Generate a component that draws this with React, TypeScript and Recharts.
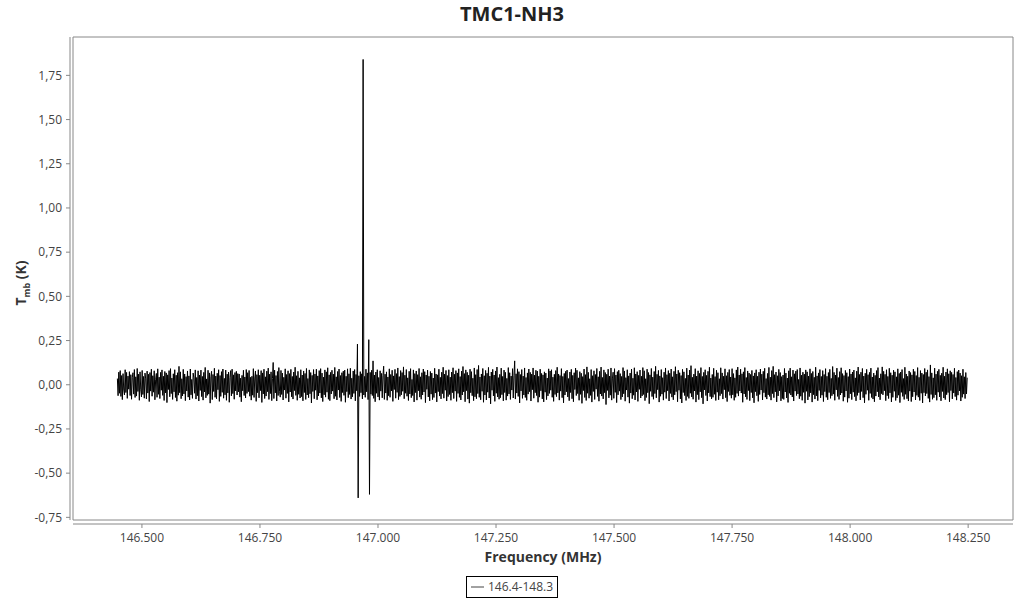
import React from 'react';
import { LineChart, Line, XAxis, YAxis, ReferenceArea, Legend, Label } from 'recharts';

const CHART_TITLE = 'TMC1-NH3';
const SERIES_NAME = '146.4-148.3';
const X_TITLE = 'Frequency (MHz)';

// spectrum: first channel frequency and channel width (MHz)
const FREQ_START_MHZ = 146.448;
const CHANNEL_WIDTH_MHZ = 0.0015;

// Tmb per channel, in mK (read/estimated from the picture)
const TMB_MK: number[] = [
  35, -62, 71, -48, 80, -66, 52, -84, 63, -30, -58, 85, -44, 70, -77, 49, -25, 74, -61, 57,
  -82, 40, 68, -53, 86, -72, 45, -64, 92, -38, 60, -88, 73, -29, -69, 81, -55, 47, -76, 66,
  33, -80, 77, -47, 59, -95, 69, -36, 88, -65, 51, -42, 79, -85, 28, 64, -71, 90, -54, 43,
  -78, 70, -31, 84, -60, 48, -89, 75, -46, 67, -101, 56, -27, 80, -68, 91, -50, 38, -83, 62,
  -40, 85, -72, 54, -93, 68, -59, 104, -45, 73, -79, 34, -63, 87, -52, 61, -90, 46, -35, 78,
  -70, 50, -86, 89, -57, 30, -77, 66, 39, -48, 84, -81, 41, -62, 79, -92, 55, -32, 83, -67,
  47, -87, 70, -41, 98, -74, 33, -60, 82, -53, 67, -104, 45, 76, -84, 58, -38, 93, -71, 49,
  -79, 65, -28, 85, -94, 52, -66, 74, -43, 89, -76, 36, -57, 83, -88, 60, -46, 72, -99, 41,
  80, -63, 88, -50, 56, -82, 69, -35, 76, -58, 63, -40, 61, -70, 37, -96, 53, -34, 82, -61,
  44, -75, 86, -49, 68, -39, 81, -65, 42, -87, 48, -59, 91, -72, 38, 78, -94, 57, -45, 85,
  -74, 54, -33, 80, -100, 67, -52, 88, -78, 45, -64, 77, -39, 94, -83, 60, -50, 73, -90, 36,
  126, -78, 83, -46, 52, -92, 75, -61, 97, -37, -70, 81, -55, 66, -86, 42, -30, 90, -76, 58,
  -49, 79, -97, 63, -41, 87, -68, 47, -81, 72, -33, 99, -60, 51, -88, 76, -54, 39, -75, 85,
  -67, 55, -91, 78, -44, 64, -83, 92, -58, 35, -73, 84, -51, 69, -103, 53, -38, 86, -79, 61,
  -31, 88, -85, 50, -63, 80, -47, 91, -74, 66, -95, 43, -57, 84, -70, 73, -42, 96, -82, 56,
  -90, 70, -52, 82, -36, 60, -79, 98, -65, 45, -86, 75, -30, 89, -72, 52, -94, 68, -44, 77,
  -60, 83, -99, 48, -39, 90, -73, 62, -55, 93, -81, 37, -68, 78, -49, 86, -91, 58, -34, 230,
  -640, 51, -66, 74, -45, 62, -80, 1840, -58, 47, -71, 88, -40, 67, -84, 255, -620, 70, -53, 82,
  -61, 135, -77, 55, -96, 72, -48, 85, -69, 41, -87, 79, -36, 64, -74, 52, 105, -83, 60, -47,
  73, -88, 44, -62, 90, -71, 58, -35, 82, -94, 50, -27, 87, -76, 63, -43, 95, -84, 46, -66,
  80, -57, 69, -37, 101, -79, 54, -48, 86, -65, 39, -89, 76, -52, 91, -73, 30, -61, 84, -97,
  63, -44, 78, -87, 57, -34, 92, -70, 45, -82, 68, -58, 89, -41, 74, -101, 55, -26, 83, -69,
  48, -91, 75, -53, 66, -84, 38, -72, 93, -47, 61, -97, 56, -39, 88, -64, 42, -80, 71, -50,
  99, -76, 60, -31, 81, -92, 52, -67, 85, -55, 43, -88, 72, -45, 96, -78, 59, -36, 80, -94,
  67, -49, 90, -71, 46, -86, 77, -58, 103, -40, 63, -96, 84, -33, 70, -81, 54, -104, 88, -45,
  74, -62, 37, -90, 95, -68, 57, -79, 86, -50, 109, -71, 44, -85, 61, -37, 92, -99, 51, -58,
  81, -86, 65, -42, 98, -75, 49, -108, 72, -31, 87, -63, 55, -94, 78, -48, 100, -69, 40, -82,
  59, -73, 94, -56, 47, -91, 83, -44, 70, -87, 36, -64, 97, -52, 68, -83, 49, -30, 91, -75,
  52, 135, -81, 62, -47, 90, -66, 74, -103, 58, -35, 86, -77, 49, -58, 95, -72, 41, -88, 67,
  -53, 89, -39, 70, -92, 60, -28, 95, -76, 54, -45, 82, -61, 77, -99, 48, -70, 88, -34, 64,
  -80, 56, -97, 73, -42, 66, -84, 38, -63, 90, -49, 78, -31, 85, -71, 43, -94, 59, -55, 80,
  -67, 99, -46, 61, -87, 52, -36, 91, -73, 47, -102, 64, -58, 76, -40, 83, -69, 35, -90, 72,
  -44, 87, -79, 53, -96, 68, -27, 94, -61, 82, -50, 39, -88, 74, -54, 65, -105, 46, -33, 89,
  -72, 57, -89, 101, -48, 70, -76, 34, -60, 86, -98, 51, -38, 79, -83, 58, -25, 92, -66, 45,
  -93, 76, -52, 100, -64, 41, -80, 84, -45, 69, -112, 59, -32, 88, -74, 49, -59, 95, -87, 33,
  71, -77, 91, -43, 55, -101, 74, -57, 82, -36, 63, -84, 47, -69, 97, -51, 78, -93, 40, -30,
  85, -70, 50, -104, 66, -47, 89, -79, 37, -59, 96, -86, 61, -41, 74, -94, 53, -26, 83, -75,
  48, -63, 97, -55, 79, -90, 34, -72, 88, -45, 69, -107, 56, -37, 92, -67, 43, -82, 75, -50,
  104, -74, 59, -28, 81, -98, 50, -65, 86, -53, 40, -87, 71, -42, 95, -78, 57, -34, 80, -92,
  65, -49, 89, -70, 45, -85, 76, -57, 102, -39, 61, -96, 82, -31, 68, -80, 52, -103, 87, -44,
  73, -61, 36, -89, 94, -66, 55, -77, 83, -48, 108, -69, 42, -82, 60, -35, 91, -98, 49, -56,
  79, -84, 64, -40, 97, -73, 47, -108, 70, -29, 85, -61, 53, -92, 76, -46, 99, -67, 38, -80,
  58, -71, 93, -54, 46, -89, 82, -42, 68, -85, 34, -62, 96, -50, 67, -81, 48, -28, 90, -73,
  51, -95, 70, -38, 86, -60, 44, -76, 91, -57, 63, -88, 39, -71, 84, -49, 100, -64, 55, -35,
  88, -47, 62, -99, 73, -52, 97, -68, 41, -83, 78, -33, 66, -90, 58, -44, 81, -74, 50, -102,
  67, -39, 85, -62, 48, -94, 71, -55, 89, -30, 60, -86, 76, -45, 93, -70, 35, -81, 64, -57,
  98, -66, 43, -87, 80, -50, 104, -73, 57, -40, 72, -97, 51, -63, 87, -34, 69, -91, 46, -78,
  55, -83, 92, -41, 66, -75, 38, -100, 79, -48, 94, -58, 45, -69, 83, -92, 62, -36, 77, -61,
  86, -52, 30, -79, 95, -65, 54, -88, 71, -43, 60, -104, 84, -37, 73, -86, 49, -67, 90, -46,
  64, -98, 75, -56, 42, -81, 99, -63, 50, -90, 67, -32, 86, -74, 47, -59, 80, -95, 58, -39,
  91, -71, 48, -85, 69, -44, 87, -77, 36, -62, 103, -53, 70, -88, 55, -29, 94, -66, 41, -83,
  74, -58, 96, -47, 63, -93, 52, -70, 81, -35, 68, -99, 46, -76, 89, -51, 61, -84, 72, -42,
  83, -67, 39, -91, 77, -60, 100, -45, 58, -86, 71, -38, 92, -73, 49, -102, 65, -54, 87, -31,
  57, -88, 70, -49, 94, -72, 44, -81, 66, -96, 53, -64, 80, -40, 97, -69, 38, -85, 62, -50,
  101, -57, 76, -34, 59, -90, 85, -62, 47, -78, 93, -46, 68, -97, 54, -71, 82, -37, 73, -89,
  45, -74, 90, -59, 64, -101, 72, -43, 86, -66, 35, -83, 99, -54, 61, -79, 48, -92, 78, -36,
  69, -95, 56, -68, 88, -41, 75, -86, 52, -60, 97, -70, 42, -89, 80, -48, 66, -103, 58, -45,
  92, -63, 71, -50, 84, -77, 46, -98, 112, -55, 67, -82, 39, -73, 94, -57, 60, -88, 76, -42,
  87, -69, 53, -91, 65, -38, 99, -75, 48, -84, 72, -56, 90, -44, 62, -96, 79, -33, 70, -80,
  58, -47, 93, -67, 41, -87, 74, -59, 83, -35, 66, -92, 51, -71, 88, -53, 45, -78, 69, -52,
  40,
];

const X_TICKS = [146.5, 146.75, 147, 147.25, 147.5, 147.75, 148, 148.25];
const Y_TICKS = [-0.75, -0.5, -0.25, 0, 0.25, 0.5, 0.75, 1, 1.25, 1.5, 1.75];
const X_DOMAIN: [number, number] = [146.354, 148.345];
const Y_DOMAIN: [number, number] = [-0.765, 1.967];

const data = TMB_MK.map((mk, i) => ({
  freq: FREQ_START_MHZ + i * CHANNEL_WIDTH_MHZ,
  tmb: mk / 1000,
}));

const FONT = '"Open Sans", sans-serif';
const AXIS_GRAY = '#888';

const YTitle = (props: any) => {
  const vb = props.viewBox || { x: 0, y: 37, width: 73, height: 483 };
  const cx = vb.x + 26;
  const cy = vb.y + vb.height / 2 + 4.5;
  return (
    <text
      transform={`translate(${cx},${cy}) rotate(-90)`}
      textAnchor="middle"
      style={{ fontSize: 14, fontWeight: 700, fill: '#333', fontFamily: FONT }}
    >
      <tspan>T</tspan>
      <tspan fontSize={9} dy={4}>mb</tspan>
      <tspan dy={-4}> (K)</tspan>
    </text>
  );
};

const LegendBox = () => (
  <div style={{ display: 'flex', justifyContent: 'center', width: '100%' }}>
    <div
      style={{
        display: 'flex',
        alignItems: 'center',
        border: '1px solid #000',
        padding: '2px 4px',
        fontSize: 12,
        lineHeight: '16px',
        color: '#444',
        fontFamily: FONT,
        background: '#fff',
      }}
    >
      <svg width={14} height={10} style={{ display: 'block' }}>
        <line x1={0} y1={5} x2={13} y2={5} stroke="#444" strokeWidth={1} />
      </svg>
      <span style={{ marginLeft: 3 }}>{SERIES_NAME}</span>
    </div>
  </div>
);

export default function App() {
  return (
    <div style={{ position: 'absolute', left: 0, top: 0, width: 1024, height: 600, background: '#fff', fontFamily: FONT }}>
      <div
        style={{
          position: 'absolute',
          top: 2,
          left: 0,
          width: 1024,
          textAlign: 'center',
          fontSize: 20,
          lineHeight: '24px',
          fontWeight: 700,
          color: '#222',
        }}
      >
        {CHART_TITLE}
      </div>
      <LineChart width={1024} height={600} data={data} margin={{ top: 37, right: 11, bottom: 2, left: 0 }}>
        <ReferenceArea
          x1={X_DOMAIN[0]}
          x2={X_DOMAIN[1]}
          y1={Y_DOMAIN[0]}
          y2={Y_DOMAIN[1]}
          fill="none"
          fillOpacity={0}
          stroke={AXIS_GRAY}
          strokeOpacity={1}
          strokeWidth={1}
          ifOverflow="visible"
        />
        <XAxis
          type="number"
          dataKey="freq"
          domain={X_DOMAIN}
          ticks={X_TICKS}
          interval={0}
          allowDataOverflow
          height={56}
          tickFormatter={(v: number) => v.toFixed(3)}
          tick={{ fontSize: 12, fill: '#444', fontFamily: FONT }}
          tickSize={4}
          tickMargin={9}
          axisLine={{ stroke: AXIS_GRAY, transform: 'translate(0,4)' }}
          tickLine={{ stroke: AXIS_GRAY, transform: 'translate(0,4)' }}
        >
          <Label
            value={X_TITLE}
            position="insideBottom"
            offset={14}
            style={{ fontSize: 14, fontWeight: 700, fill: '#333', fontFamily: FONT }}
          />
        </XAxis>
        <YAxis
          type="number"
          domain={Y_DOMAIN}
          ticks={Y_TICKS}
          interval={0}
          allowDataOverflow
          width={73}
          tickFormatter={(v: number) => v.toFixed(2).replace('.', ',')}
          tick={{ fontSize: 12, fill: '#444', fontFamily: FONT }}
          tickSize={4}
          tickMargin={7}
          axisLine={{ stroke: AXIS_GRAY, transform: 'translate(-3,0)' }}
          tickLine={{ stroke: AXIS_GRAY, transform: 'translate(-3,0)' }}
        >
          <Label content={YTitle} />
        </YAxis>
        <Legend
          verticalAlign="bottom"
          align="center"
          content={LegendBox}
          wrapperStyle={{ left: 0, width: 1024 }}
        />
        <Line
          type="linear"
          dataKey="tmb"
          name={SERIES_NAME}
          stroke="#000"
          strokeWidth={1}
          dot={false}
          isAnimationActive={false}
        />
      </LineChart>
    </div>
  );
}
